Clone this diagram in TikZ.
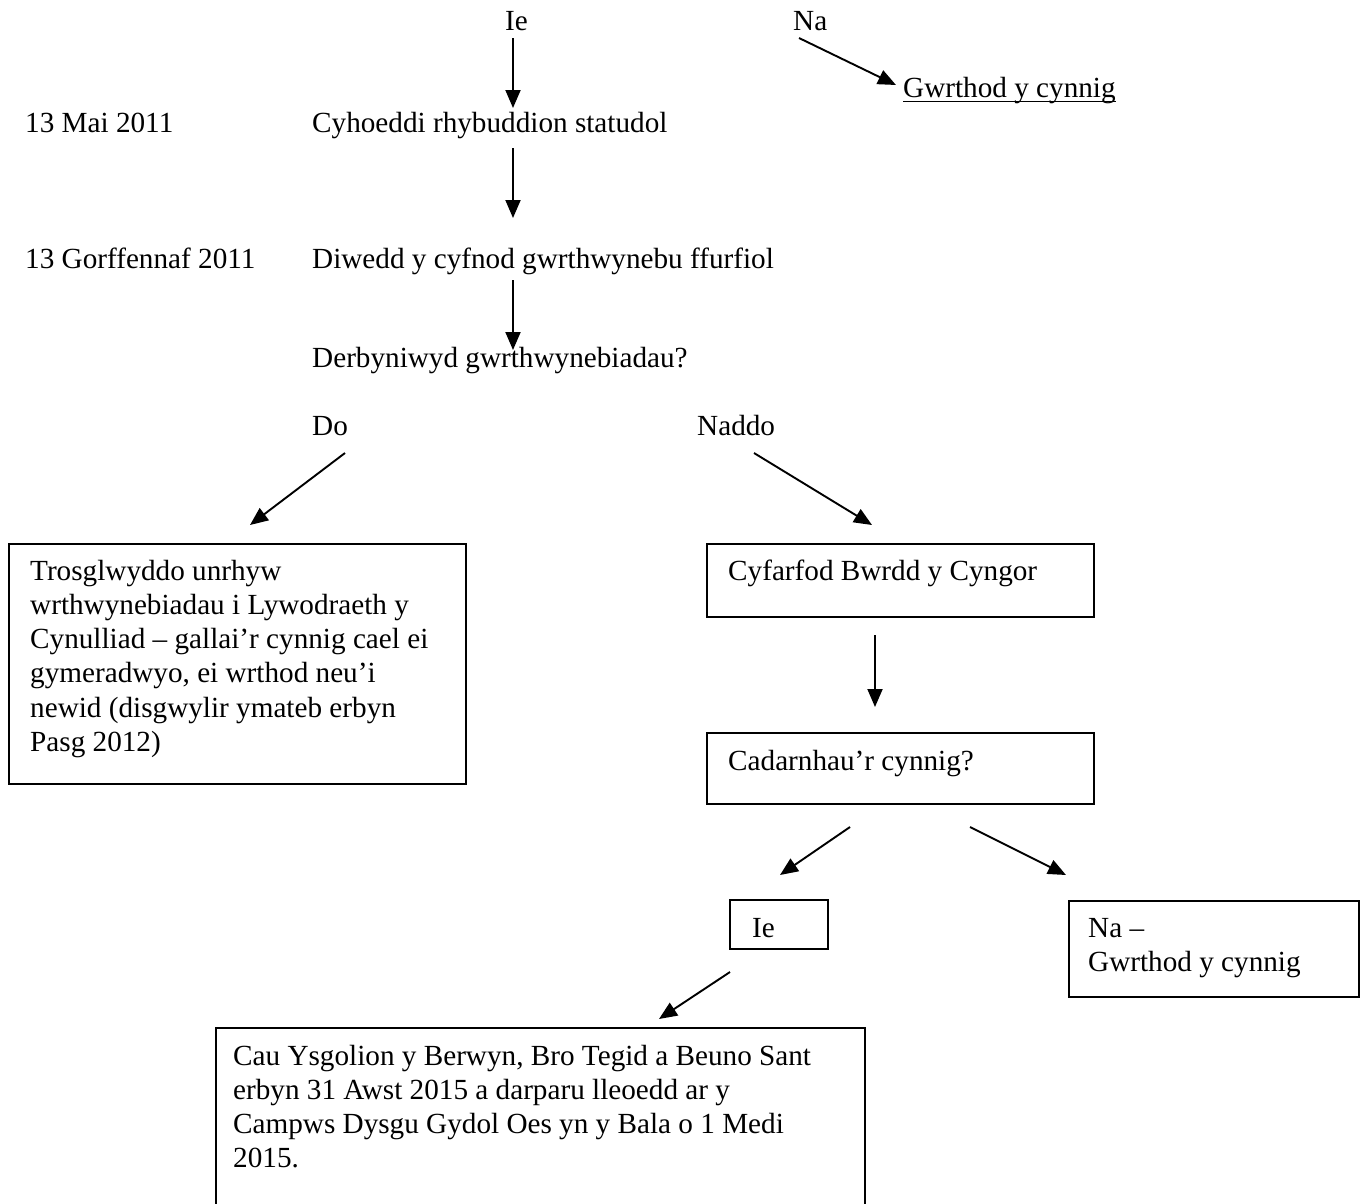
\documentclass[tikz,border=0pt]{standalone}
\usepackage{fontspec}
\setmainfont{Liberation Serif}
\usepackage{tikz}
\usetikzlibrary{arrows.meta, positioning}
\tikzstyle{block} = [draw, rectangle, line width=2pt, inner sep=0pt, anchor=north west]
\tikzstyle{txt} = [inner sep=0pt, anchor=base west, font=\fontsize{29.2}{34.3}\selectfont]
\tikzstyle{para} = [txt, align=flush left, text width=620pt]
\tikzstyle{flow} = [line width=1.9pt, -{Triangle[length=18pt, width=15pt]}]

\begin{document}
\begin{tikzpicture}[x=1pt, y=-1pt]
        \clip (0,0) rectangle (1360,1203);
        \begin{scope}
        % timeline
        \node[txt] (ie) at (505,30) {Ie};
        \node[txt] (na) at (793,30) {Na};
        \node[txt] (gwrthod) at (903,97) {Gwrthod y cynnig};
        \node[txt] (mai) at (25,132) {13 Mai 2011};
        \node[txt] (rhybudd) at (312,132) {Cyhoeddi rhybuddion statudol};
        \node[txt] (gorff) at (25,268) {13 Gorffennaf 2011};
        \node[txt] (diwedd) at (312,268) {Diwedd y cyfnod gwrthwynebu ffurfiol};
        \node[txt] (derb) at (312,367) {Derbyniwyd gwrthwynebiadau?};
        \node[txt] (do) at (312,435) {Do};
        \node[txt] (naddo) at (697,435) {Naddo};
        \draw[line width=1.9pt] ([yshift=-4.5pt]gwrthod.base west) -- ([yshift=-4.5pt]gwrthod.base east);

        % boxes
        \node[block, minimum width=457pt, minimum height=240pt] (trosg) at (8,543) {};
        \node[para] (trosgT) at (30,580) {Trosglwyddo unrhyw\\ wrthwynebiadau i Lywodraeth y\\ Cynulliad – gallai’r cynnig cael ei\\ gymeradwyo, ei wrthod neu’i\\ newid (disgwylir ymateb erbyn\\ Pasg 2012)};
        \node[block, minimum width=387pt, minimum height=73pt] (cyfarfod) at (706,543) {};
        \node[txt] (cyfarfodT) at (728,580) {Cyfarfod Bwrdd y Cyngor};
        \node[block, minimum width=387pt, minimum height=71pt] (cadarn) at (706,732) {};
        \node[txt] (cadarnT) at (728,770) {Cadarnhau’r cynnig?};
        \node[block, minimum width=98pt, minimum height=49pt] (ieB) at (729,899) {};
        \node[txt] (ieT) at (752,937) {Ie};
        \node[block, minimum width=290pt, minimum height=96pt] (naB) at (1068,900) {};
        \node[para] (naT) at (1088,937) {Na –\\ Gwrthod y cynnig};
        \node[block, minimum width=649pt, minimum height=220pt] (cau) at (215,1027) {};
        \node[para] (cauT) at (233,1065) {Cau Ysgolion y Berwyn, Bro Tegid a Beuno Sant\\ erbyn 31 Awst 2015 a darparu lleoedd ar y\\ Campws Dysgu Gydol Oes yn y Bala o 1 Medi\\ 2015.};

        % arrow ends
        \coordinate (ie-out) at (513,38);      \coordinate (rhybudd-in) at (513,108);
        \coordinate (na-out) at (799,38);      \coordinate (gwrthod-in) at (896,85);
        \coordinate (rhybudd-out) at (513,148); \coordinate (diwedd-in) at (513,218);
        \coordinate (diwedd-out) at (513,280); \coordinate (derb-in) at (513,350);
        \coordinate (do-out) at (345,453);     \coordinate (trosg-in) at (250,525);
        \coordinate (naddo-out) at (754,453);  \coordinate (cyfarfod-in) at (872,525);
        \coordinate (cyfarfod-out) at (875,635); \coordinate (cadarn-in) at (875,707);
        \coordinate (cadarn-l) at (850,827);   \coordinate (ieB-in) at (780,875);
        \coordinate (cadarn-r) at (970,827);   \coordinate (naB-in) at (1066,875);
        \coordinate (ieB-out) at (730,972);    \coordinate (cau-in) at (659,1019);

        \draw[flow] (ie-out) -- (rhybudd-in);
        \draw[flow] (na-out) -- (gwrthod-in);
        \draw[flow] (rhybudd-out) -- (diwedd-in);
        \draw[flow] (diwedd-out) -- (derb-in);
        \draw[flow] (do-out) -- (trosg-in);
        \draw[flow] (naddo-out) -- (cyfarfod-in);
        \draw[flow] (cyfarfod-out) -- (cadarn-in);
        \draw[flow] (cadarn-l) -- (ieB-in);
        \draw[flow] (cadarn-r) -- (naB-in);
        \draw[flow] (ieB-out) -- (cau-in);
        \end{scope}
    \end{tikzpicture}
\end{document}
